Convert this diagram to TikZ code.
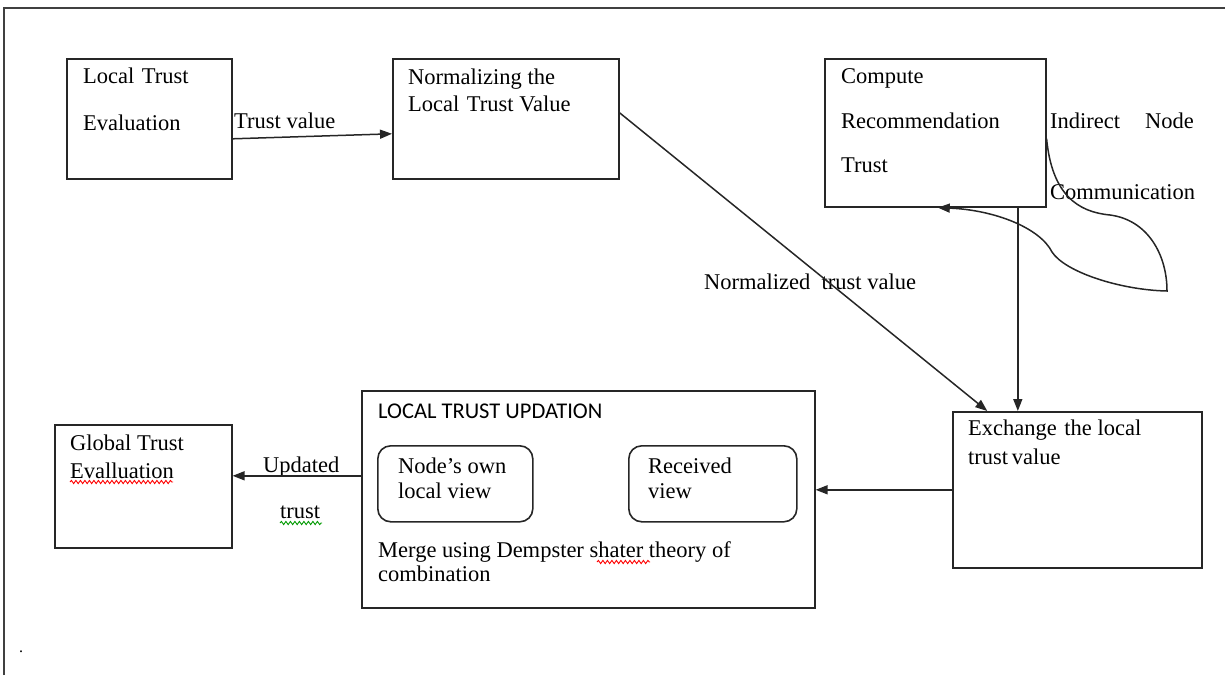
\documentclass[tikz,border=0pt]{standalone}
\usepackage{fontspec}
\setmainfont{Liberation Serif}
\newfontfamily\capsfont{Carlito}
\usetikzlibrary{arrows.meta,decorations.pathmorphing}
\begin{document}
\begin{tikzpicture}[x=1pt,y=-1pt,
  box/.style={draw=black!85,line width=1.6pt,anchor=north west,inner sep=0pt},
  roundbox/.style={box,rounded corners=13pt},
  txt/.style={anchor=base west,inner sep=0pt,font=\fontsize{22.5}{27}\selectfont},
  capt/.style={anchor=base west,inner sep=0pt,font=\capsfont\fontsize{22.5}{26}\selectfont},
  flow/.style={draw=black!85,line width=1.5pt,-{Triangle[length=12pt,width=9pt]}},
  squig/.style={line width=0.9pt,decorate,decoration={snake,amplitude=1.6pt,segment length=4.5pt}}]
\useasboundingbox (0,0) rectangle (1225,675);
% page frame
\draw[line width=2.2pt,black!75] (4,675) -- (4,8) -- (1225,8);

% process boxes
\node[box,minimum width=165pt,minimum height=120pt] (A) at (66,58) {};
\node[box,minimum width=226pt,minimum height=120pt] (B) at (392,58) {};
\node[box,minimum width=221pt,minimum height=148pt] (C) at (824,58) {};
\node[box,minimum width=249pt,minimum height=156pt] (D) at (952,411) {};
\node[box,minimum width=453pt,minimum height=217pt] (E) at (361,390) {};
\node[roundbox,minimum width=155pt,minimum height=76pt] (E1) at (377,445) {};
\node[roundbox,minimum width=168pt,minimum height=76pt] (E2) at (628,445) {};
\node[box,minimum width=177pt,minimum height=123pt] (F) at (54,424) {};

% box texts
\node[txt] (a1) at (83,83) {Local\,\,Trust};
\node[txt] (a2) at (83,130) {Evaluation};
\node[txt] (b1) at (408,84) {Normalizing the};
\node[txt] (b2) at (408,111) {Local\,\,Trust Value};
\node[txt] (c1) at (841,83) {Compute};
\node[txt] (c2) at (841,128) {Recommendation};
\node[txt] (c3) at (841,172) {Trust};
\node[txt] (d1) at (968,435) {Exchange\,\,the local};
\node[txt] (d2) at (968,464) {trust\hspace{-2pt} value};
\node[capt] (e0) at (378,418) {LOCAL TRUST UPDATION};
\node[txt] (e11) at (398,473) {Node's own};
\node[txt] (e12) at (398,498) {local view};
\node[txt] (e21) at (648,473) {Received};
\node[txt] (e22) at (648,498) {view};
\node[txt] (e3) at (378,557) {Merge using Dempster shater theory of};
\node[txt] (e4) at (378,581) {combination};
\node[txt] (f1) at (70,450) {Global Trust};
\node[txt] (f2) at (70,478) {Evalluation};

% connector labels
\node[txt] (l1) at (234,128) {Trust value};
\node[txt] (l2) at (704,289) {Normalized\,\,\,trust value};
\node[txt] (l3) at (1050,128) {Indirect};
\node[txt] (l4) at (1145,128) {Node};
\node[txt] (l5) at (1050,199) {Communication};
\node[txt] (l6) at (263,472) {Updated};
\node[txt] (l7) at (280,518) {trust};
\node[txt,font=\fontsize{16}{18}\selectfont] (dot) at (19,652) {.};

% connectors
\draw[flow] ([yshift=-20pt]A.east) -- ([yshift=-15pt]B.west);
\draw[flow] ([yshift=6pt]B.east) -- ([xshift=-90pt]D.north);
\coordinate (cd) at ([xshift=82.5pt]C.south);
\draw[flow] (cd) -- (cd |- D.north);
\draw[flow] (D.west) -- (D.west -| E.east);
\coordinate (ef) at ([yshift=23.5pt]E.west);
\draw[flow] (ef) -- (ef -| F.east);
\draw[flow] ([yshift=-6pt]C.east) .. controls (1052,195) and (1078,212) .. (1110,215)
  .. controls (1148,220) and (1167,255) .. (1167,291)
  .. controls (1120,290) and (1065,272) .. (1052,252)
  .. controls (1040,228) and (995,210) .. ([xshift=2.5pt]C.south);

% spelling marks
\draw[squig,red] (70,482) -- (173,482);
\draw[squig,green!60!black] (280,523) -- (322,523);
\draw[squig,red] (597,562) -- (650,562);
\end{tikzpicture}
\end{document}
